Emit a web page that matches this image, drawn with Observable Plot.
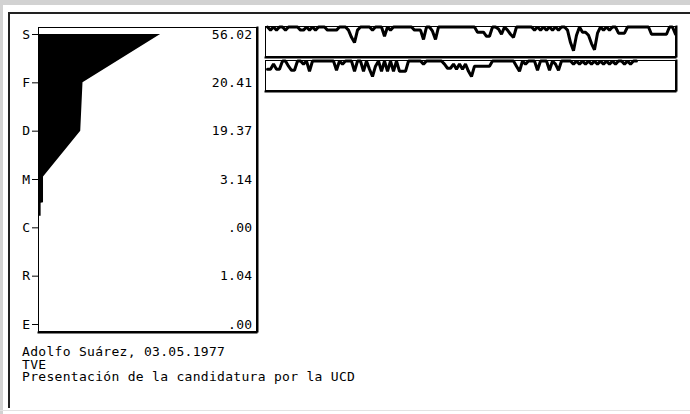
<!DOCTYPE html>
<html><head><meta charset="utf-8">
<script src="https://cdn.jsdelivr.net/npm/d3@7"></script>
<script src="https://cdn.jsdelivr.net/npm/@observablehq/plot@0.6"></script>
<style>
body{margin:0;background:#fff;width:690px;height:414px;overflow:hidden;position:relative;font-family:"DejaVu Sans Mono",monospace;}
.abs{position:absolute;}
#caption{left:22px;top:346px;font-size:13px;line-height:12.5px;letter-spacing:0.3px;color:#000;white-space:pre;}
</style></head><body>
<div class="abs" style="left:0;top:0;width:690px;height:5px;background:#d2d2d2"></div>
<div class="abs" style="left:0;top:0;width:3px;height:414px;background:#d2d2d2"></div>
<div class="abs" style="left:8px;top:12px;width:682px;height:2px;background:#222"></div>
<div class="abs" style="left:8px;top:12px;width:2px;height:396px;background:#222"></div>
<div class="abs" style="left:0;top:410px;width:690px;height:1px;background:#e2e2e2"></div>
<div id="left" class="abs" style="left:0;top:0"></div>
<div id="s1" class="abs" style="left:260px;top:20px"></div>
<div id="s2" class="abs" style="left:260px;top:54px"></div>
<div id="caption" class="abs"></div>
<script>
const categories = ["S","F","D","M","C","R","E"];
const shareLabels = ["56.02","20.41","19.37","3.14",".00","1.04",".00"];
const shareMax = 100;
// outline of the black profile (category position, value)
const profilePos = [0, 1, 2, 2.95, 3.48, 3.49, 3.76];
const profileVal = [56.02, 20.41, 19.37, 2.3, 2.3, 1.2, 1.2];
// two tracks, one value per time step (depth below the top line)
const trackTop = [
 0,3,0,3,0,0,3,0,0,0,
 0,3,3,0,3,0,3,0,0,0,
 3,3,3,3,0,0,0,3,10,15,
 3,0,0,0,0,3,0,0,0,9,
 0,3,0,0,0,0,0,0,0,3,
 3,3,12,0,0,4,12,0,0,0,
 0,0,0,0,0,0,0,0,0,0,
 5,5,5,9,9,0,0,2,7,0,
 3,7,10,0,0,0,0,0,0,3,
 0,3,0,3,0,3,0,3,0,0,
 3,15,23,8,0,5,5,8,16,22,
 6,0,3,0,3,0,0,6,6,6,
 0,0,0,0,0,0,0,0,7,7,
 7,7,7,7,0,0,7
];
const trackBottom = [
 8,8,3,8,8,0,0,5,9,9,
 0,0,3,0,10,0,0,0,0,0,
 0,0,0,9,0,3,0,0,0,10,
 0,0,10,0,8,15,5,0,10,0,
 10,0,10,0,10,10,10,0,0,0,
 0,0,3,0,0,0,0,0,0,3,
 7,7,3,8,3,8,3,10,15,5,
 5,5,5,5,5,0,0,0,0,0,
 0,0,0,5,10,0,3,0,0,0,
 9,0,0,0,9,0,3,9,0,0,
 0,0,3,0,3,0,3,0,3,0,
 3,0,3,0,3,0,3,0,0,3,
 0,3,0,0,null,null,null,null,null,null,
 null,null,null,null,null,null,null
];
const captionLines = ["Adolfo Suárez, 03.05.1977", "TVE", "Presentación de la candidatura por la UCD"];

const font = '"DejaVu Sans Mono", monospace';
const idx = d3.range(categories.length);
const profile = profilePos.map((p, i) => ({pos: p, val: profileVal[i]}));

const left = Plot.plot({
  width: 262, height: 340,
  marginLeft: 38, marginRight: 6, marginTop: 27, marginBottom: 9,
  style: {fontFamily: font, fontSize: "13px", color: "#000", background: "transparent", letterSpacing: "0.3px"},
  x: {domain: [0, shareMax], axis: null, label: null},
  y: {domain: [0, categories.length - 1], reverse: true, insetTop: 7, insetBottom: 7, axis: null, label: null},
  marks: [
    Plot.areaX(profile, {y: "pos", x: "val", fill: "#000", curve: "linear"}),
    Plot.axisY(idx, {ticks: idx, tickFormat: i => categories[i], tickSize: 6, tickPadding: 2, stroke: "#000", fill: "#000", fontSize: 13, label: null}),
    Plot.text(idx, {x: () => shareMax, y: i => i, text: i => shareLabels[i], textAnchor: "end", dx: -4, fill: "#000", fontSize: 13}),
    Plot.frame({stroke: "#000"}),
    Plot.frame({anchor: "right", stroke: "#000", strokeWidth: 2, dx: 1}),
    Plot.frame({anchor: "bottom", stroke: "#000", strokeWidth: 2, dy: 1})
  ]
});
document.getElementById("left").appendChild(left);

function track(values) {
  const data = values.map((v, i) => ({i, v}));
  return Plot.plot({
    width: 420, height: 40,
    marginLeft: 5, marginRight: 5, marginTop: 6, marginBottom: 4,
    style: {background: "transparent"},
    x: {domain: [0, values.length - 1], insetLeft: 2, axis: null},
    y: {domain: [0, 28.5], reverse: true, insetTop: 0.5, axis: null},
    marks: [
      Plot.line(data, {x: "i", y: "v", stroke: "#000", strokeWidth: 3, curve: "linear", strokeLinejoin: "miter"}),
      Plot.frame({stroke: "#000"}),
      Plot.frame({anchor: "right", stroke: "#000", strokeWidth: 2, dx: 1}),
      Plot.frame({anchor: "bottom", stroke: "#000", strokeWidth: 2, dy: 1})
    ]
  });
}
document.getElementById("s1").appendChild(track(trackTop));
document.getElementById("s2").appendChild(track(trackBottom));
document.getElementById("caption").textContent = captionLines.join("\n");
</script>
</body></html>
